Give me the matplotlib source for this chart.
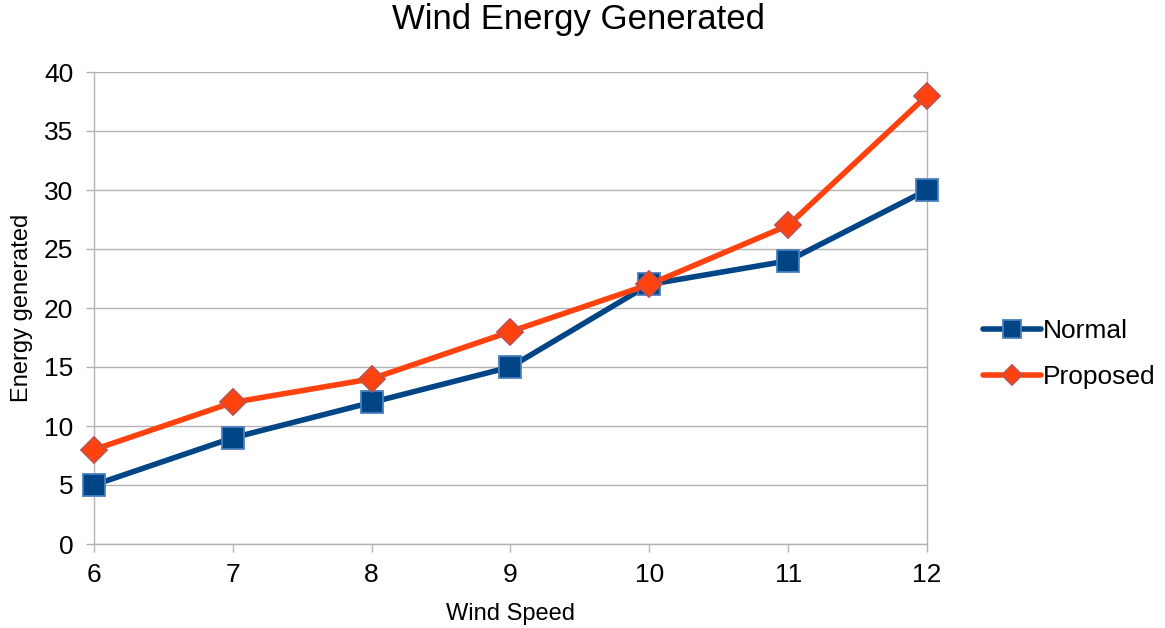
import matplotlib
matplotlib.use("Agg")
import matplotlib.pyplot as plt

plt.rcParams['font.family'] = ['Liberation Sans', 'DejaVu Sans']

wind_speed = [6, 7, 8, 9, 10, 11, 12]
normal = [5, 9, 12, 15, 22, 24, 30]
proposed = [8, 12, 14, 18, 22, 27, 38]
y_ticks = [0, 5, 10, 15, 20, 25, 30, 35, 40]

fig = plt.figure(figsize=(11.65, 6.28), dpi=100)
ax = fig.add_axes([94/1165, 1-544/628, (927-94)/1165, (544-72)/628])

blue = '#004586'
orange = '#ff420e'

ax.plot(wind_speed, normal, color=blue, lw=4.0, marker='s', markersize=16,
        markerfacecolor=blue, markeredgecolor='#4a7fbf', markeredgewidth=1.3,
        label='Normal', zorder=3, solid_capstyle='round', clip_on=False)
ax.plot(wind_speed, proposed, color=orange, lw=4.0, marker='D', markersize=13,
        markerfacecolor=orange, markeredgecolor='#c0504d', markeredgewidth=1.3,
        label='Proposed', zorder=4, solid_capstyle='round', clip_on=False)

ax.set_xlim(6, 12)
ax.set_ylim(0, 40)
ax.set_yticks(y_ticks)
ax.set_xticks(wind_speed)
ax.grid(axis='y', color='#b3b3b3', lw=1)
ax.set_axisbelow(True)
for s in ['left', 'bottom', 'right']:
    ax.spines[s].set_color('#b3b3b3')
    ax.spines[s].set_linewidth(1)
ax.spines['top'].set_visible(False)
ax.tick_params(axis='both', colors='#b3b3b3', labelcolor='black', labelsize=19,
               length=6, width=1)
ax.tick_params(axis='x', pad=8)
ax.tick_params(axis='y', pad=9)
ax.set_xlabel('Wind Speed', fontsize=17, labelpad=11)
ax.set_ylabel('Energy generated', fontsize=17, labelpad=8)
fig.suptitle('Wind Energy Generated', fontsize=25, x=578/1165, y=1-20/628, va='center')

leg = ax.legend(loc='center left', bbox_to_anchor=(1.054, 0.402), frameon=False,
                fontsize=19, handlelength=2.2, handletextpad=0.1, labelspacing=0.85,
                markerscale=0.8, borderaxespad=0)

fig.savefig('out.png', dpi=100)
